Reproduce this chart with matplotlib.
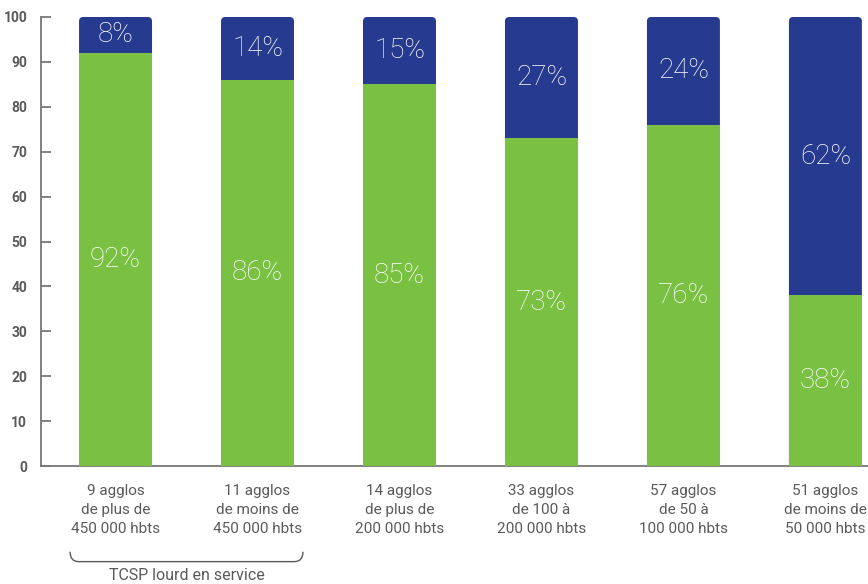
import matplotlib.pyplot as plt
from matplotlib.path import Path
from matplotlib.patches import PathPatch, FancyBboxPatch
import matplotlib.transforms as mtransforms

# data
categories = [
    "9 agglos\nde plus de\n450 000 hbts",
    "11 agglos\nde moins de\n450 000 hbts",
    "14 agglos\nde plus de\n200 000 hbts",
    "33 agglos\nde 100 à\n200 000 hbts",
    "57 agglos\nde 50 à\n100 000 hbts",
    "51 agglos\nde moins de\n50 000 hbts",
]
green_vals = [92, 86, 85, 73, 76, 38]
blue_vals = [8, 14, 15, 27, 24, 62]
yticks = [0, 10, 20, 30, 40, 50, 60, 70, 80, 90, 100]
brace_label = "TCSP lourd en service"

green = "#7ac143"
blue = "#263a8f"
axis_grey = "#777777"
text_grey = "#5a5a5a"

fig = plt.figure(figsize=(8.68, 5.84), dpi=100)
ax = fig.add_axes([41 / 868, 118 / 584, 1 - 41 / 868, 449 / 584])
ax.set_xlim(-0.525, 5.3)
ax.set_ylim(0, 100)

x = list(range(len(categories)))
w = 0.514
totals = [g + b for g, b in zip(green_vals, blue_vals)]

# blue part drawn as full bars with rounded tops, green stacked over it
blue_bars = ax.bar(x, totals, width=w, color=blue, zorder=2)
for r in blue_bars:
    r.set_visible(False)
    ax.add_patch(FancyBboxPatch((r.get_x(), r.get_y()), r.get_width(), r.get_height(),
                                boxstyle="round,pad=0,rounding_size=0.03",
                                mutation_aspect=31.6, facecolor=blue,
                                edgecolor="none", zorder=2))
ax.bar(x, green_vals, width=w, color=green, zorder=3)

# labels inside the bars
lab = dict(ha="center", va="center", color="white", fontsize=20,
           fontfamily="Roboto", fontweight="light", zorder=4)
for i in x:
    ax.text(i, green_vals[i] / 2, f"{green_vals[i]}%", **lab)
    ax.text(i, green_vals[i] + blue_vals[i] / 2, f"{blue_vals[i]}%", **lab)

ax.set_yticks(yticks)
ax.set_yticklabels([str(t) for t in yticks], fontsize=10, fontweight="bold",
                   color=text_grey, fontfamily="Roboto")
ax.tick_params(axis="y", direction="in", length=7, width=1.3, color=axis_grey, pad=10)
ax.set_xticks(x)
ax.set_xticklabels(categories, fontsize=11, color=text_grey, fontfamily="Roboto",
                   linespacing=1.45)
ax.tick_params(axis="x", length=0, pad=13)

for s in ["top", "right"]:
    ax.spines[s].set_visible(False)
for s in ["left", "bottom"]:
    ax.spines[s].set_color(axis_grey)
    ax.spines[s].set_linewidth(1.3)

# brace under the first two groups
trans = mtransforms.blended_transform_factory(ax.transData, ax.transAxes)
x0, x1 = -0.32, 1.32
yt, yb = -0.191, -0.213
d = 0.06
verts = [(x0, yt), (x0, yb), (x0 + d, yb), (x1 - d, yb), (x1, yb), (x1, yt)]
codes = [Path.MOVETO, Path.CURVE3, Path.CURVE3, Path.LINETO, Path.CURVE3, Path.CURVE3]
ax.add_patch(PathPatch(Path(verts, codes), transform=trans, fill=False,
                       edgecolor=text_grey, linewidth=1.0, clip_on=False))
ax.text((x0 + x1) / 2, -0.243, brace_label, transform=trans, ha="center", va="center",
        fontsize=11.5, color=text_grey, fontfamily="Roboto")

fig.savefig("out.png", dpi=100)
